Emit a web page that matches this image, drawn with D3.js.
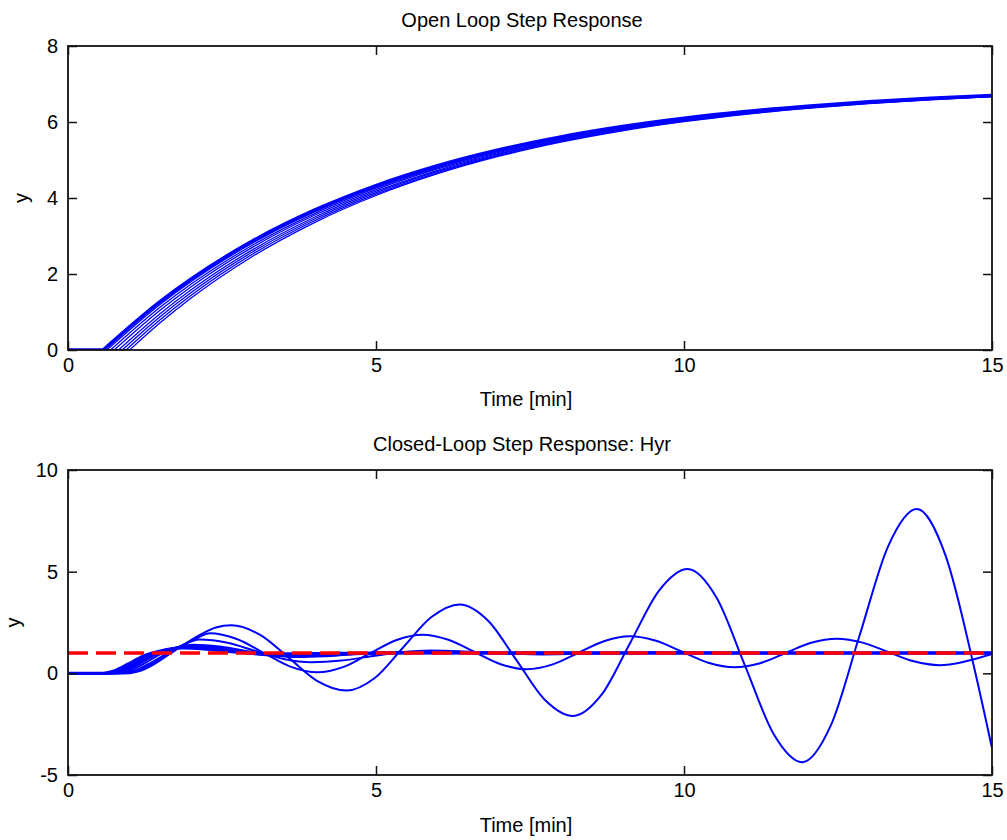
<!DOCTYPE html>
<html>
<head>
<meta charset="utf-8">
<script src="https://cdn.jsdelivr.net/npm/d3@7"></script>
<style>
body { margin: 0; background: #fff; }
text { font-family: "Liberation Sans", Arial, sans-serif; fill: #000; }
</style>
</head>
<body>
<div id="chart"></div>
<script>
'use strict';

// ---- data: open loop (one curve per dead time) ----
var openDelay = [0.57, 0.63, 0.69, 0.75, 0.82, 0.88, 0.94, 1.00];
var openTime = [1.5, 2, 3, 4, 5, 6, 7, 8, 9, 10, 11, 12, 13, 14, 15];
var openY = [
    [1.281, 1.870, 2.873, 3.679, 4.328, 4.850, 5.270, 5.608, 5.880, 6.099, 6.275, 6.416, 6.530, 6.622, 6.696],
    [1.206, 1.803, 2.818, 3.635, 4.293, 4.822, 5.247, 5.590, 5.865, 6.087, 6.265, 6.409, 6.524, 6.617, 6.692],
    [1.130, 1.735, 2.763, 3.591, 4.257, 4.793, 5.224, 5.571, 5.850, 6.075, 6.256, 6.401, 6.518, 6.612, 6.688],
    [1.053, 1.666, 2.708, 3.546, 4.221, 4.764, 5.201, 5.552, 5.835, 6.063, 6.246, 6.393, 6.512, 6.607, 6.684],
    [0.962, 1.584, 2.642, 3.493, 4.179, 4.730, 5.173, 5.530, 5.817, 6.048, 6.234, 6.384, 6.504, 6.601, 6.679],
    [0.883, 1.513, 2.585, 3.447, 4.142, 4.700, 5.149, 5.511, 5.802, 6.036, 6.224, 6.376, 6.498, 6.596, 6.675],
    [0.802, 1.441, 2.527, 3.401, 4.104, 4.670, 5.125, 5.491, 5.786, 6.023, 6.214, 6.368, 6.491, 6.591, 6.671],
    [0.721, 1.368, 2.468, 3.354, 4.066, 4.639, 5.100, 5.471, 5.770, 6.010, 6.204, 6.359, 6.484, 6.585, 6.666]
];

// ---- data: closed loop Hyr, [time, y] per dead time ----
var hyr057 = [[0,0],[0.57,0],[0.77,0.15],[0.97,0.45],[1.22,0.85],[1.5,1.1],[1.85,1.24],[2.2,1.2],[2.7,1.05],[3.3,0.96],[4.0,0.97],[5,1.0],[15,1.0]];
var hyr063 = [[0,0],[0.63,0],[0.83,0.15],[1.03,0.45],[1.28,0.87],[1.56,1.13],[1.9,1.28],[2.25,1.24],[2.8,1.05],[3.4,0.93],[4.2,0.96],[5.2,1.0],[15,1.0]];
var hyr069 = [[0,0],[0.69,0],[0.89,0.15],[1.09,0.45],[1.34,0.88],[1.62,1.16],[1.95,1.32],[2.3,1.27],[2.85,1.03],[3.5,0.9],[4.3,0.95],[5.4,1.01],[15,1.0]];
var hyr075 = [[0,0],[0.75,0],[0.95,0.15],[1.15,0.45],[1.4,0.9],[1.68,1.2],[2.0,1.37],[2.35,1.3],[2.9,1.0],[3.6,0.85],[4.4,0.92],[5.5,1.02],[7,1.0],[15,1.0]];
var hyr082 = [[0,0],[0.82,0],[1.02,0.15],[1.22,0.45],[1.47,0.9],[1.75,1.25],[2.03,1.41],[2.46,1.32],[2.89,1.1],[3.32,0.89],[3.75,0.8],[4.16,0.84],[4.575,0.93],[4.99,1.01],[5.4,1.05],[6.2,1.02],[7,0.99],[9,1.0],[15,1.0]];
var hyr088 = [[0,0],[0.88,0],[1.1,0.15],[1.3,0.45],[1.55,0.88],[1.8,1.3],[2.14,1.66],[2.59,1.5],[3.045,1.1],[3.5,0.71],[3.95,0.55],[4.44,0.63],[4.925,0.84],[5.41,1.04],[5.9,1.12],[6.35,1.09],[6.8,1.02],[7.25,0.96],[7.7,0.93],[8.6,0.98],[9.5,1.03],[11.3,0.99],[13,1.0],[15,1.0]];
var hyr094 = [[0,0],[0.94,0],[1.15,0.15],[1.35,0.45],[1.6,0.9],[1.85,1.35],[2.1,1.75],[2.3,1.97],[2.74,1.69],[3.175,1.01],[3.61,0.33],[4.05,0.05],[4.475,0.32],[4.9,0.98],[5.325,1.63],[5.75,1.9],[6.175,1.65],[6.6,1.05],[7.025,0.45],[7.45,0.2],[7.87,0.44],[8.285,1.01],[8.7,1.58],[9.12,1.82],[9.545,1.6],[9.97,1.06],[10.395,0.52],[10.82,0.3],[11.235,0.5],[11.65,1.0],[12.065,1.5],[12.48,1.7],[12.9,1.51],[13.315,1.05],[13.73,0.59],[14.15,0.4],[14.56,0.58],[15,0.95]];
var hyr100 = [[0,0],[1.0,0],[1.2,0.15],[1.4,0.45],[1.65,0.95],[1.9,1.45],[2.15,1.9],[2.4,2.25],[2.65,2.36],[3.12,1.89],[3.585,0.76],[4.05,-0.38],[4.52,-0.85],[4.98,-0.23],[5.44,1.27],[5.9,2.77],[6.36,3.39],[6.82,2.59],[7.28,0.65],[7.74,-1.3],[8.2,-2.1],[8.665,-1.04],[9.13,1.52],[9.595,4.07],[10.06,5.13],[10.525,3.74],[10.99,0.38],[11.455,-2.98],[11.92,-4.37],[12.385,-2.55],[12.85,1.86],[13.315,6.26],[13.78,8.08],[14.245,5.8],[14.71,0.29],[15,-3.68]];
var setpoint = [[0,1],[15,1]];

var xTicks = [0, 5, 10, 15];
var openTicks = [0, 2, 4, 6, 8];
var closedTicks = [-5, 0, 5, 10];

var FONT_SIZE = 20;
var W = 1007, H = 840;
var LEFT = 68, RIGHT = 992;

var svg = d3.select('#chart')
    .append('svg')
    .attr('width', W)
    .attr('height', H);

// build the open loop series from the arrays
var openSeries = openDelay.map(function(d, i) {
    var pts = [[0, 0], [d, 0]];
    openTime.forEach(function(t, j) {
        pts.push([t, openY[i][j]]);
    });
    return pts;
});

var x = d3.scaleLinear().domain([0, 15]).range([LEFT, RIGHT]);

function plain(d) {
    return String(d);
}

function drawPanel(opt) {
    var y = d3.scaleLinear().domain(opt.domain).range([opt.bottom, opt.top]);
    var g = svg.append('g');

    g.append('clipPath').attr('id', opt.id + '-clip')
        .append('rect')
        .attr('x', LEFT).attr('y', opt.top)
        .attr('width', RIGHT - LEFT).attr('height', opt.bottom - opt.top);

    var line = d3.line()
        .x(function(d) { return x(d[0]); })
        .y(function(d) { return y(d[1]); })
        .curve(d3.curveMonotoneX);

    // the flat part before the dead time is straight, the rest is smoothed
    function runPath(pts) {
        return 'M' + x(pts[0][0]) + ',' + y(pts[0][1]) + 'L' + line(pts.slice(1)).slice(1);
    }

    var plot = g.append('g').attr('clip-path', 'url(#' + opt.id + '-clip)');

    plot.selectAll('path.run')
        .data(opt.series)
        .enter().append('path')
        .attr('class', 'run')
        .attr('d', runPath)
        .attr('fill', 'none')
        .attr('stroke', '#0000ff')
        .attr('stroke-width', function(d, i) {
            return opt.widths[i];
        });

    if (opt.ref) {
        plot.append('path')
            .attr('d', line(opt.ref))
            .attr('fill', 'none')
            .attr('stroke', '#ff0000')
            .attr('stroke-width', 3.5)
            .attr('stroke-dasharray', '20,8');
    }

    // axes, ticks inside on all four sides
    var axB = g.append('g').attr('transform', 'translate(0,' + opt.bottom + ')')
        .call(d3.axisBottom(x).tickValues(xTicks).tickFormat(plain).tickSizeInner(-9).tickSizeOuter(0).tickPadding(8));
    var axT = g.append('g').attr('transform', 'translate(0,' + opt.top + ')')
        .call(d3.axisTop(x).tickValues(xTicks).tickSizeInner(-9).tickSizeOuter(0).tickFormat(''));
    var axL = g.append('g').attr('transform', 'translate(' + LEFT + ',0)')
        .call(d3.axisLeft(y).tickValues(opt.ticks).tickFormat(plain).tickSizeInner(-9).tickSizeOuter(0).tickPadding(10));
    var axR = g.append('g').attr('transform', 'translate(' + RIGHT + ',0)')
        .call(d3.axisRight(y).tickValues(opt.ticks).tickSizeInner(-9).tickSizeOuter(0).tickFormat(''));

    [axB, axT, axL, axR].forEach(function(a) {
        a.select('.domain').remove();
        a.selectAll('line').attr('stroke', '#111').attr('stroke-width', 1.5);
        a.selectAll('text')
            .attr('font-family', '"Liberation Sans", Arial, sans-serif')
            .style('font-size', FONT_SIZE + 'px')
            .attr('fill', '#000');
    });

    g.append('rect')
        .attr('x', LEFT).attr('y', opt.top)
        .attr('width', RIGHT - LEFT).attr('height', opt.bottom - opt.top)
        .attr('fill', 'none')
        .attr('stroke', '#111')
        .attr('stroke-width', 1.8);

    g.append('text')
        .attr('x', (LEFT + RIGHT) / 2 - 8)
        .attr('y', opt.titleY)
        .attr('text-anchor', 'middle')
        .style('font-size', FONT_SIZE + 'px')
        .text(opt.title);

    g.append('text')
        .attr('x', (LEFT + RIGHT) / 2 - 4)
        .attr('y', opt.xlabelY)
        .attr('text-anchor', 'middle')
        .style('font-size', FONT_SIZE + 'px')
        .text('Time [min]');

    g.append('text')
        .attr('transform', 'translate(' + opt.ylabelX + ',' + ((opt.top + opt.bottom) / 2) + ') rotate(-90)')
        .attr('text-anchor', 'middle')
        .style('font-size', FONT_SIZE + 'px')
        .text('y');
}

drawPanel({
    id: 'open',
    top: 46, bottom: 350,
    domain: [0, 8],
    ticks: openTicks,
    series: openSeries,
    widths: [3.5, 1.3, 1.3, 1.3, 1.3, 1.3, 1.3, 1.3],
    title: 'Open Loop Step Response',
    titleY: 27,
    xlabelY: 406,
    ylabelX: 28
});

drawPanel({
    id: 'closed',
    top: 470, bottom: 775,
    domain: [-5, 10],
    ticks: closedTicks,
    series: [hyr057, hyr063, hyr069, hyr075, hyr082, hyr088, hyr094, hyr100],
    widths: [3, 2.5, 2.5, 2.5, 2, 2, 2, 2],
    ref: setpoint,
    title: 'Closed-Loop Step Response: Hyr',
    titleY: 451,
    xlabelY: 832,
    ylabelX: 20
});
</script>
</body>
</html>
